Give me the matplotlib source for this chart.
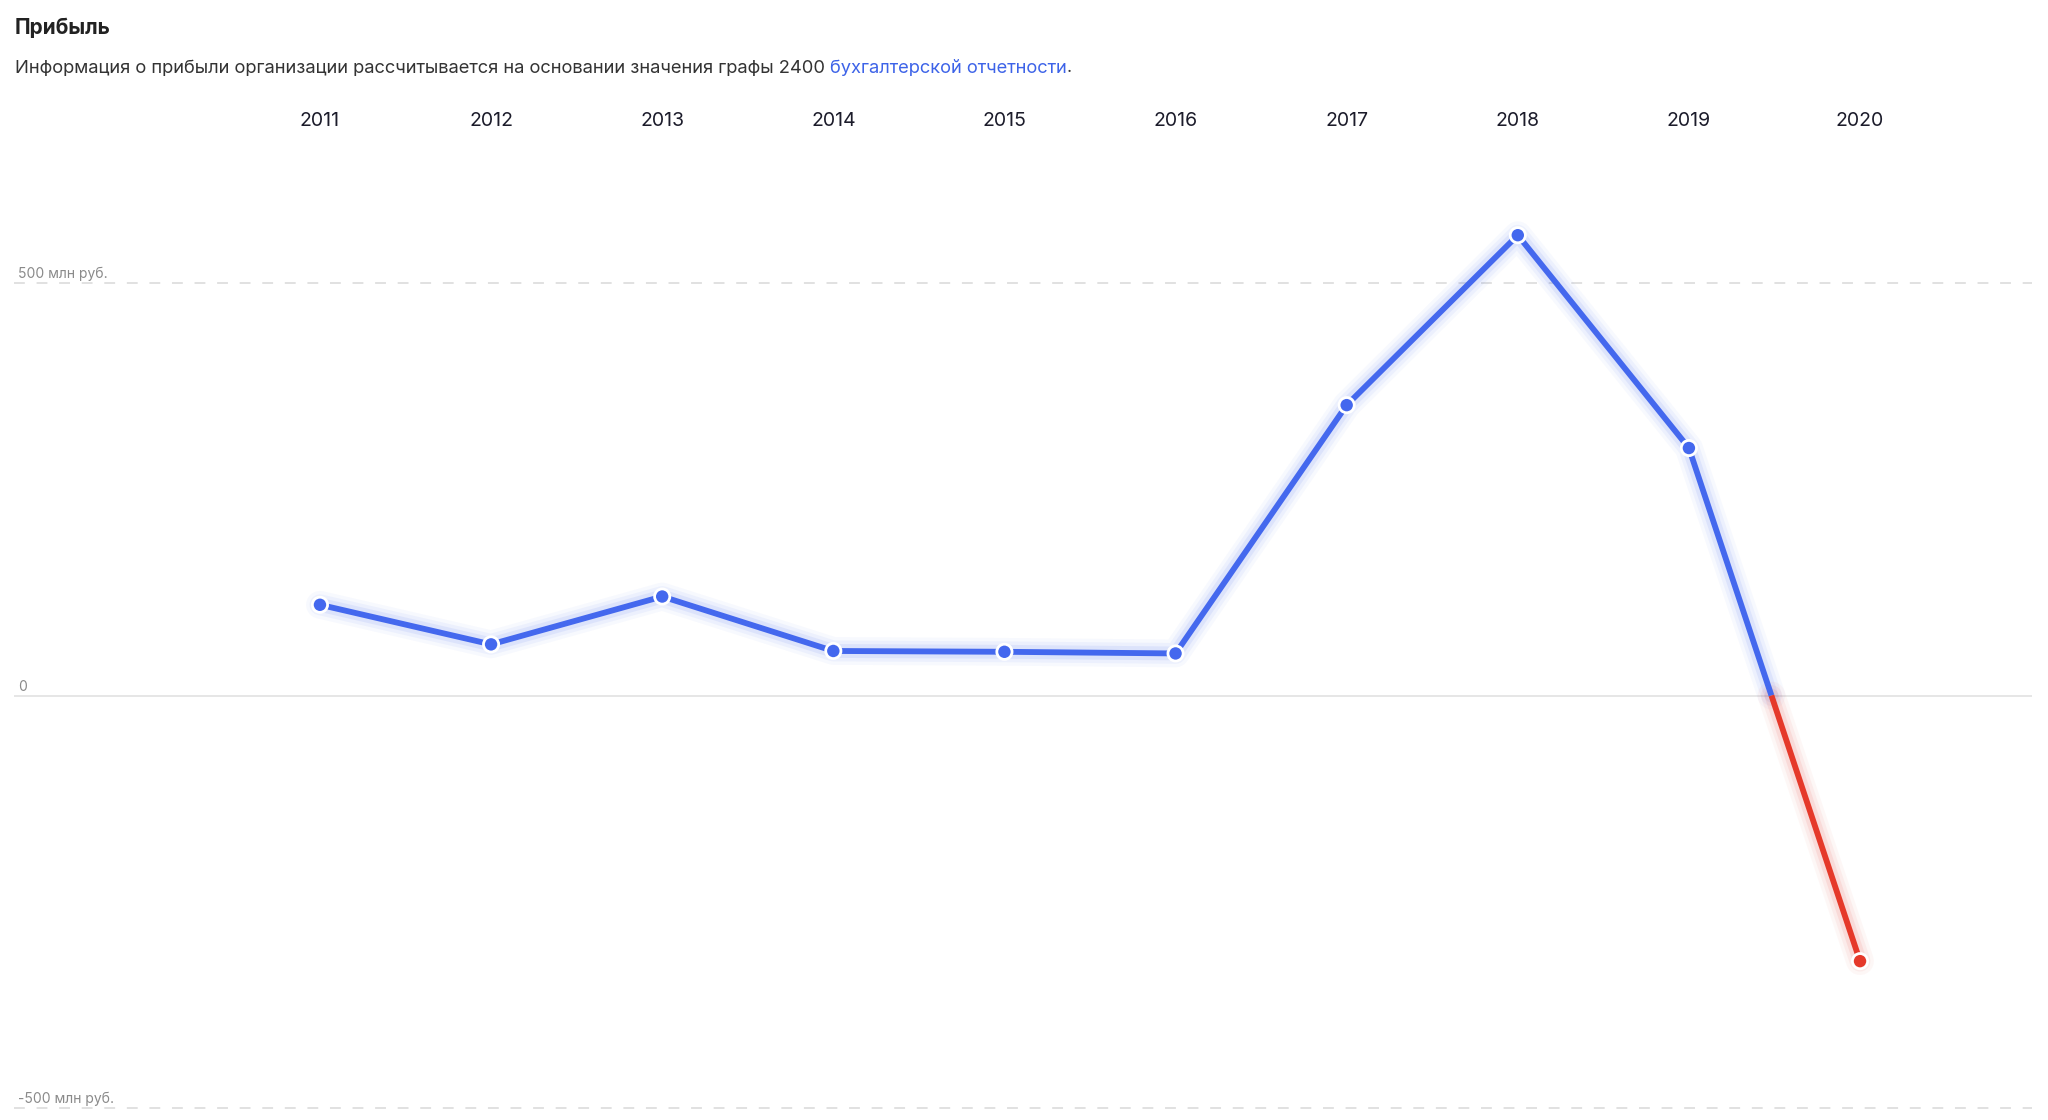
import numpy as np
import matplotlib
matplotlib.use("Agg")
from matplotlib import pyplot as plt
from matplotlib.transforms import blended_transform_factory, offset_copy

# data: profit by year, mln rub
years = ['2011', '2012', '2013', '2014', '2015', '2016', '2017', '2018', '2019', '2020']
profit = [110, 62, 120, 54, 53, 51, 352, 558, 300, -322]
y_ticks = [500, 0, -500]
y_tick_labels = ['500 млн руб.', '0', '-500 млн руб.']

title = 'Прибыль'
note_before = 'Информация о прибыли организации рассчитывается на основании значения графы 2400 '
note_link = 'бухгалтерской отчетности'
note_after = '.'

BLUE = '#4468ee'
RED = '#e5392a'

plt.rcParams['font.family'] = ['Inter', 'DejaVu Sans']

W, H = 2048, 1120
fig = plt.figure(figsize=(W / 100, H / 100), dpi=100)
fig.patch.set_facecolor('white')

# axes placed in pixel space
ax_left, ax_right, ax_top, ax_bottom = 14, 2032, 140, 1115
ax = fig.add_axes([ax_left / W, 1 - ax_bottom / H, (ax_right - ax_left) / W, (ax_bottom - ax_top) / H])
ax.set_facecolor('none')

x = np.arange(len(years))
ax.set_xlim(-1.788, 10.005)
ax.set_ylim(-508.5, 673.4)

for s in ax.spines.values():
    s.set_visible(False)
ax.set_yticks([])
ax.xaxis.tick_top()
ax.set_xticks(x)
ax.set_xticklabels(years, fontsize=14, color='#1c1c2b')
ax.tick_params(axis='x', length=0, pad=7.5)

# grid lines
for v in y_ticks:
    if v == 0:
        ax.axhline(v, color='#e4e4e4', lw=1.3, zorder=1)
    else:
        ax.axhline(v, color='#dedede', lw=1.3, ls=(0, (6, 6.5)), zorder=1)

tr = offset_copy(blended_transform_factory(ax.transAxes, ax.transData), fig=fig, x=4, y=2, units='dots')
for v, lab in zip(y_ticks, y_tick_labels):
    ax.text(0, v, lab, transform=tr, fontsize=10, color='#8a8a8a', va='bottom', ha='left')

# split the line at the zero crossing into positive (blue) and negative (red) parts
xs, ys = [x[0]], [profit[0]]
segs = []
for i in range(1, len(profit)):
    y0, y1 = profit[i - 1], profit[i]
    if (y0 >= 0) != (y1 >= 0):
        xc = x[i - 1] + y0 / (y0 - y1)
        xs.append(xc); ys.append(0)
        segs.append((xs, ys, BLUE if y0 >= 0 else RED))
        xs, ys = [xc], [0]
    xs.append(x[i]); ys.append(y1)
segs.append((xs, ys, BLUE if ys[-1] >= 0 else RED))

for sx, sy, c in segs:
    # soft glow
    for w, a in [(20, 0.04), (15, 0.06), (10, 0.09)]:
        ax.plot(sx, sy, color=c, lw=w, alpha=a, solid_capstyle='round', zorder=2)
    ax.plot(sx, sy, color=c, lw=4.2, solid_capstyle='butt', solid_joinstyle='round', zorder=3)

colors = [BLUE if v >= 0 else RED for v in profit]
ax.scatter(x, profit, s=120, c=colors, edgecolors='white', linewidths=2, zorder=4)

# header
fig.text(15 / W, 1 - 28 / H, title, fontsize=15, fontweight='bold', color='#222222', va='center')
t1 = fig.text(15 / W, 1 - 68 / H, note_before, fontsize=13.2, color='#333333', va='center')
fig.canvas.draw()
r = fig.canvas.get_renderer()
bb = t1.get_window_extent(r)
t2 = fig.text(bb.x1 / W, 1 - 68 / H, note_link, fontsize=13.2, color='#3d63e8', va='center')
bb2 = t2.get_window_extent(r)
fig.text(bb2.x1 / W, 1 - 68 / H, note_after, fontsize=13.2, color='#333333', va='center')

fig.savefig('out.png', dpi=100, facecolor='white')
